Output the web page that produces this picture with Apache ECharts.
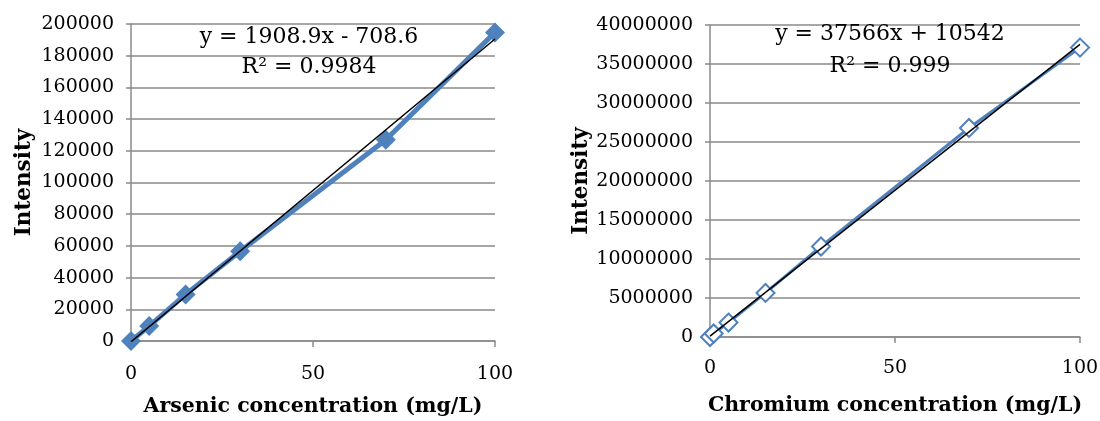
<!DOCTYPE html>
<html>
<head>
<meta charset="utf-8">
<script src="https://cdn.jsdelivr.net/npm/echarts@6/dist/echarts.min.js"></script>
<style>
  html, body { margin: 0; padding: 0; background: #fff; }
  #chart { width: 1100px; height: 421px; }
</style>
</head>
<body>
<div id="chart"></div>
<script>
// arsenic calibration (left)
const arsenicConc = [0, 5, 15, 30, 70, 100];
const arsenicIntensity = [0, 9400, 29400, 56600, 127000, 194700];
// chromium calibration (right)
const chromiumConc = [0, 1, 5, 15, 30, 70, 100];
const chromiumIntensity = [0, 450000, 1850000, 5650000, 11600000, 26800000, 37100000];

const xTicks = [0, 50, 100];
const arsenicEq = ["y = 1908.9x - 708.6", "R² = 0.9984"];
const chromiumEq = ["y = 37566x + 10542", "R² = 0.999"];

const blue = "#4F81BD";
const gridColor = "#8a8a8a";
const serif = "DejaVu Serif";

// least squares line through the points, drawn from x=0 to x=100
function trend(xs, ys) {
  const n = xs.length;
  let sx = 0, sy = 0, sxx = 0, sxy = 0;
  for (let i = 0; i < n; i++) {
    sx += xs[i]; sy += ys[i];
    sxx += xs[i] * xs[i]; sxy += xs[i] * ys[i];
  }
  const m = (n * sxy - sx * sy) / (n * sxx - sx * sx);
  const b = (sy - m * sx) / n;
  return [[xTicks[0], b], [xTicks[2], m * xTicks[2] + b]];
}

function pairs(xs, ys) {
  return xs.map((x, i) => [x, ys[i]]);
}

function xAxisOf(idx, title, labelMargin, gap) {
  return {
    type: "value",
    gridIndex: idx,
    min: 0,
    max: 100,
    interval: 50,
    name: title,
    nameLocation: "middle",
    nameGap: gap,
    nameTextStyle: { fontFamily: serif, fontWeight: "bold", fontSize: 20.5, color: "#000" },
    axisLine: { show: true, lineStyle: { color: gridColor, width: 1.5 } },
    axisTick: { show: true, inside: false, length: 6, lineStyle: { color: gridColor, width: 1.5 } },
    axisLabel: { fontFamily: serif, fontSize: 19, color: "#000", margin: labelMargin },
    splitLine: { show: false },
  };
}

function yAxisOf(idx, max, interval, gap) {
  return {
    type: "value",
    gridIndex: idx,
    min: 0,
    max: max,
    interval: interval,
    name: "Intensity",
    nameLocation: "middle",
    nameRotate: 90,
    nameGap: gap,
    nameTextStyle: { fontFamily: serif, fontWeight: "bold", fontSize: 21.5, color: "#000" },
    axisLine: { show: true, lineStyle: { color: gridColor, width: 1.5 } },
    axisTick: { show: true, inside: false, length: 5, lineStyle: { color: gridColor, width: 1.5 } },
    axisLabel: {
      fontFamily: serif, fontSize: 19, color: "#000", margin: 17,
      formatter: (v) => String(v),
    },
    splitLine: { show: true, lineStyle: { color: gridColor, width: 1.5 } },
  };
}

function eqText(cx, top, txt) {
  return {
    type: "text",
    x: cx,
    y: top,
    style: {
      text: txt,
      fontFamily: serif,
      fontSize: 22,
      fill: "#000",
      align: "center",
      verticalAlign: "middle",
    },
    z: 100,
  };
}

const chart = echarts.init(document.getElementById("chart"));
chart.setOption({
  animation: false,
  grid: [
    { left: 131, right: 605, top: 24, bottom: 80, outerBoundsMode: "none" },
    { left: 710, right: 20, top: 25, bottom: 84, outerBoundsMode: "none" },
  ],
  xAxis: [
    xAxisOf(0, "Arsenic concentration (mg/L)", 24, 55),
    xAxisOf(1, "Chromium concentration (mg/L)", 22, 58),
  ],
  yAxis: [
    yAxisOf(0, 200000, 20000, 96),
    yAxisOf(1, 40000000, 5000000, 110),
  ],
  series: [
    {
      type: "line",
      xAxisIndex: 0,
      yAxisIndex: 0,
      data: pairs(arsenicConc, arsenicIntensity),
      symbol: "diamond",
      symbolSize: 20,
      itemStyle: { color: blue },
      lineStyle: { color: blue, width: 5 },
      z: 2,
    },
    {
      type: "line",
      xAxisIndex: 0,
      yAxisIndex: 0,
      data: trend(arsenicConc, arsenicIntensity),
      symbol: "none",
      lineStyle: { color: "#000", width: 1.5 },
      z: 5,
    },
    {
      type: "line",
      xAxisIndex: 1,
      yAxisIndex: 1,
      data: pairs(chromiumConc, chromiumIntensity),
      symbol: "diamond",
      symbolSize: 18,
      showAllSymbol: true,
      itemStyle: { color: "#fff", borderColor: blue, borderWidth: 2 },
      lineStyle: { color: blue, width: 3 },
      z: 2,
    },
    {
      type: "line",
      xAxisIndex: 1,
      yAxisIndex: 1,
      data: trend(chromiumConc, chromiumIntensity),
      symbol: "none",
      lineStyle: { color: "#000", width: 1.5 },
      z: 5,
    },
  ],
  graphic: [
    eqText(309, 37, arsenicEq[0]),
    eqText(309, 67, arsenicEq[1]),
    eqText(890, 34, chromiumEq[0]),
    eqText(890, 66, chromiumEq[1]),
  ],
});
</script>
</body>
</html>
